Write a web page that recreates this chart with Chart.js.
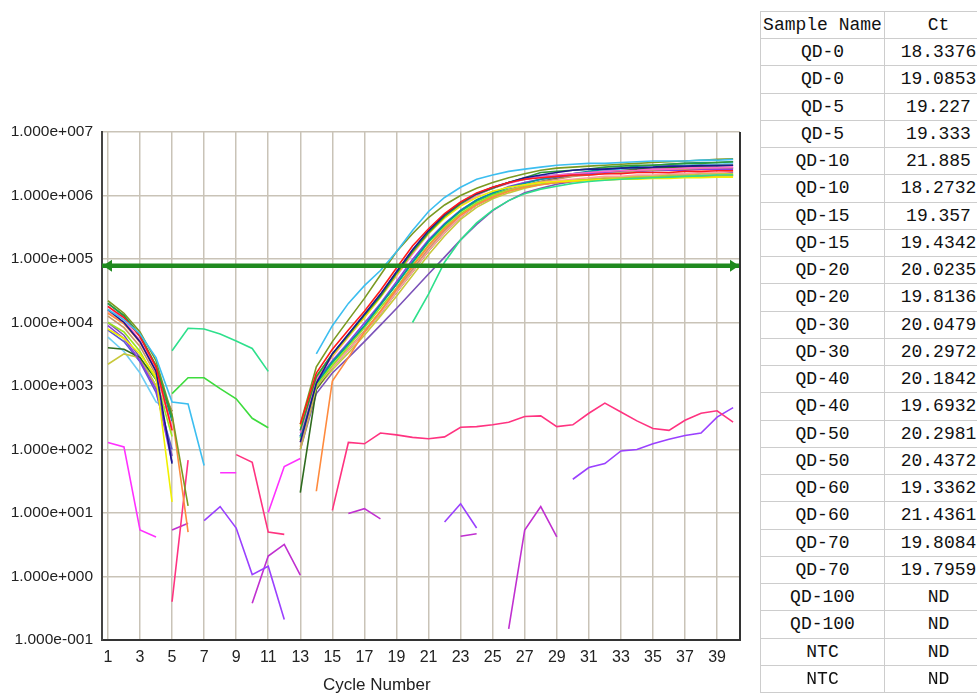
<!DOCTYPE html>
<html>
<head>
<meta charset="utf-8">
<script src="https://cdn.jsdelivr.net/npm/chart.js@4.4.0/dist/chart.umd.min.js"></script>
<style>
  html, body { margin: 0; padding: 0; background: #fff; width: 977px; height: 693px; overflow: hidden; position: relative; font-family: 'Liberation Sans', Arial, sans-serif; }
  #plot { position: absolute; left: 0; top: 0; }
  #xtitle { position: absolute; left: 323px; top: 675px; font-size: 17px; line-height: 20px; color: #222; }
  #ct { position: absolute; left: 760px; top: 11px; width: 232px; border-collapse: collapse; table-layout: fixed; font-family: 'Liberation Mono', monospace; font-size: 18px; color: #111; }
  #ct td { border: 1px solid #cdcdcd; text-align: center; padding: 0; white-space: nowrap; overflow: hidden; }
  #ct tr { height: 27.25px; }
  #ct tr.head { height: 27px; }
</style>
</head>
<body>
<canvas id="plot" width="750" height="693"></canvas>
<div id="xtitle">Cycle Number</div>
<table id="ct"><colgroup><col style="width:124px"><col style="width:108px"></colgroup><tbody></tbody></table>
<script>
const _ = null;

// x: cycle number, y: delta Rn (log axis)
const cycles = [1,2,3,4,5,6,7,8,9,10,11,12,13,14,15,16,17,18,19,20,21,22,23,24,25,26,27,28,29,30,31,32,33,34,35,36,37,38,39,40];
const xTicks = [1,3,5,7,9,11,13,15,17,19,21,23,25,27,29,31,33,35,37,39];
const yTicks = [0.1,1,10,100,1e3,1e4,1e5,1e6,1e7];
const threshold = 7.8e4;

// table on the right
const sampleNames = ['QD-0','QD-0','QD-5','QD-5','QD-10','QD-10','QD-15','QD-15','QD-20','QD-20','QD-30','QD-30','QD-40','QD-40','QD-50','QD-50','QD-60','QD-60','QD-70','QD-70','QD-100','QD-100','NTC','NTC'];
const ctValues = ['18.3376','19.0853','19.227','19.333','21.885','18.2732','19.357','19.4342','20.0235','19.8136','20.0479','20.2972','20.1842','19.6932','20.2981','20.4372','19.3362','21.4361','19.8084','19.7959','ND','ND','ND','ND'];

// amplification curves, one value per cycle (null = below zero, not drawn)
const qd0a = [1.6e4,1.1e4,6.6e3,2.8e3,5.6e2,5.2e2,56,_,_,_,_,_,_,3.2e3,8.9e3,2.0e4,3.8e4,6.6e4,1.3e5,2.8e5,5.6e5,9.3e5,1.35e6,1.8e6,2.1e6,2.4e6,2.6e6,2.8e6,3.0e6,3.1e6,3.2e6,3.2e6,3.3e6,3.4e6,3.5e6,3.5e6,3.5e6,3.6e6,3.6e6,3.7e6];
const qd0b = [1.8e4,1.2e4,6.0e3,2.0e3,2.0e2,_,_,_,_,_,_,_,2.5e2,1.6e3,3.8e3,7.6e3,1.5e4,3.2e4,7.2e4,1.6e5,3.0e5,5.2e5,7.9e5,1.1e6,1.35e6,1.6e6,1.8e6,1.9e6,2.0e6,2.1e6,2.1e6,2.2e6,2.2e6,2.3e6,2.3e6,2.3e6,2.4e6,2.4e6,2.45e6,2.45e6];
const qd5a = [1.6e4,1.0e4,5.0e3,1.7e3,60,_,_,_,_,_,_,_,1.3e2,1.1e3,3.2e3,6.6e3,1.35e4,2.8e4,6.3e4,1.4e5,2.8e5,5.0e5,7.8e5,1.07e6,1.35e6,1.6e6,1.9e6,2.1e6,2.3e6,2.5e6,2.6e6,2.6e6,2.7e6,2.75e6,2.8e6,2.9e6,2.9e6,2.95e6,2.95e6,3.0e6];
const qd5b = [2.0e4,1.3e4,6.3e3,2.1e3,3.2e2,_,_,_,_,_,_,_,2.0e2,1.4e3,3.2e3,6.3e3,1.3e4,2.6e4,5.9e4,1.3e5,2.6e5,4.7e5,7.4e5,1.05e6,1.3e6,1.6e6,1.9e6,2.3e6,2.4e6,2.5e6,2.6e6,2.8e6,2.9e6,3.0e6,3.0e6,3.1e6,3.2e6,3.2e6,3.3e6,3.4e6];
const qd10a = [_,_,_,_,3.6e3,8.1e3,7.9e3,6.6e3,5.1e3,3.9e3,1.7e3,_,_,_,_,_,_,_,_,1.0e4,2.8e4,8.9e4,2.0e5,3.7e5,5.9e5,8.3e5,1.07e6,1.26e6,1.4e6,1.55e6,1.66e6,1.74e6,1.8e6,1.86e6,1.9e6,1.95e6,2.0e6,2.04e6,2.1e6,2.1e6];
const qd10b = [2.2e4,1.4e4,7.1e3,2.5e3,3.5e2,13,_,_,_,_,_,_,2.5e2,2.0e3,5.0e3,1.1e4,2.4e4,5.6e4,1.3e5,2.5e5,4.5e5,7.1e5,1.0e6,1.3e6,1.6e6,1.9e6,2.2e6,2.5e6,2.7e6,2.8e6,2.9e6,3.0e6,3.1e6,3.2e6,3.3e6,3.4e6,3.5e6,3.6e6,3.7e6,3.8e6];
const qd15a = [7.9e3,5.6e3,3.2e3,1.4e3,15,_,_,_,_,_,_,_,2.3e2,1.4e3,3.0e3,6.0e3,1.2e4,2.5e4,5.6e4,1.26e5,2.5e5,4.4e5,6.8e5,9.3e5,1.17e6,1.35e6,1.48e6,1.6e6,1.66e6,1.7e6,1.74e6,1.78e6,1.8e6,1.8e6,1.86e6,1.86e6,1.9e6,1.9e6,1.95e6,1.95e6];
const qd15b = [1.8e4,1.1e4,5.2e3,1.8e3,2.2e2,_,_,_,_,_,_,_,1.8e2,1.26e3,2.9e3,5.9e3,1.2e4,2.5e4,5.4e4,1.2e5,2.5e5,4.5e5,7.1e5,1.0e6,1.3e6,1.55e6,1.8e6,1.95e6,2.1e6,2.2e6,2.3e6,2.4e6,2.45e6,2.5e6,2.6e6,2.6e6,2.7e6,2.75e6,2.75e6,2.8e6];
const qd20a = [1.4e4,9.5e3,5.0e3,1.9e3,3.5e2,5.0,_,_,_,_,_,_,_,22,1.2e3,2.8e3,7.1e3,1.5e4,3.4e4,7.6e4,1.6e5,3.0e5,4.9e5,7.2e5,9.5e5,1.17e6,1.35e6,1.48e6,1.6e6,1.66e6,1.74e6,1.78e6,1.8e6,1.86e6,1.9e6,1.95e6,2.0e6,2.0e6,2.04e6,2.04e6];
const qd20b = [2.0e4,1.26e4,6.0e3,2.0e3,2.8e2,_,_,_,_,_,_,_,1.6e2,1.1e3,2.4e3,4.6e3,8.9e3,1.9e4,4.0e4,8.9e4,1.9e5,3.5e5,5.8e5,8.5e5,1.1e6,1.35e6,1.55e6,1.8e6,2.0e6,2.2e6,2.4e6,2.6e6,2.7e6,2.9e6,3.0e6,3.1e6,3.2e6,3.3e6,3.3e6,3.4e6];
const qd30a = [1.0e4,7.1e3,3.5e3,1.26e3,1.6e2,_,_,_,_,_,_,_,1.4e2,1.0e3,2.1e3,4.2e3,8.3e3,1.7e4,3.5e4,7.9e4,1.66e5,3.2e5,5.2e5,7.6e5,1.0e6,1.2e6,1.38e6,1.5e6,1.6e6,1.7e6,1.78e6,1.8e6,1.86e6,1.9e6,1.95e6,2.0e6,2.0e6,2.04e6,2.04e6,2.1e6];
const qd30b = [1.5e4,1.0e4,4.8e3,1.7e3,2.0e2,_,_,_,_,_,_,_,1.3e2,1.0e3,2.0e3,3.7e3,7.1e3,1.4e4,3.0e4,6.3e4,1.35e5,2.6e5,4.6e5,7.1e5,9.5e5,1.2e6,1.4e6,1.6e6,1.7e6,1.8e6,1.9e6,2.0e6,2.0e6,2.1e6,2.1e6,2.2e6,2.2e6,2.3e6,2.3e6,2.4e6];
const qd40a = [1.26e4,8.3e3,4.2e3,1.5e3,4.0e2,_,_,_,_,_,_,_,1.1e2,9.5e2,2.0e3,3.8e3,7.4e3,1.5e4,3.2e4,6.9e4,1.45e5,2.8e5,4.8e5,7.2e5,9.8e5,1.23e6,1.45e6,1.66e6,1.8e6,2.0e6,2.1e6,2.2e6,2.3e6,2.45e6,2.5e6,2.6e6,2.6e6,2.7e6,2.75e6,2.75e6];
const qd40b = [8.9e3,5.6e3,2.5e3,8.9e2,63,_,_,_,_,_,_,_,1.6e2,1.2e3,2.5e3,4.9e3,9.8e3,2.0e4,4.4e4,9.8e4,2.0e5,3.6e5,5.9e5,8.5e5,1.1e6,1.38e6,1.6e6,1.8e6,1.95e6,2.1e6,2.2e6,2.3e6,2.3e6,2.4e6,2.45e6,2.5e6,2.5e6,2.6e6,2.6e6,2.6e6];
const qd50a = [4.0e3,3.8e3,2.8e3,1.26e3,4.0e2,_,_,_,_,_,_,_,21,8.9e2,2.0e3,3.7e3,7.1e3,1.4e4,3.0e4,6.3e4,1.35e5,2.6e5,4.6e5,7.1e5,9.5e5,1.2e6,1.45e6,1.66e6,1.86e6,2.04e6,2.2e6,2.3e6,2.45e6,2.6e6,2.7e6,2.75e6,2.8e6,2.9e6,2.95e6,3.0e6];
const qd50b = [2.2e3,3.2e3,2.8e3,1.0e3,3.2e2,_,_,_,_,_,_,_,1.0e2,8.9e2,1.8e3,3.3e3,6.3e3,1.26e4,2.6e4,5.5e4,1.17e5,2.3e5,4.2e5,6.5e5,8.9e5,1.1e6,1.3e6,1.48e6,1.6e6,1.74e6,1.8e6,1.9e6,1.95e6,2.0e6,2.04e6,2.1e6,2.1e6,2.2e6,2.2e6,2.2e6];
const qd60a = [7.6e3,5.0e3,2.4e3,7.9e2,1.0e2,_,_,_,_,_,_,_,2.0e2,1.4e3,3.2e3,6.3e3,1.3e4,2.6e4,5.9e4,1.3e5,2.6e5,4.7e5,7.4e5,1.05e6,1.3e6,1.6e6,1.8e6,2.0e6,2.1e6,2.2e6,2.3e6,2.4e6,2.4e6,2.5e6,2.5e6,2.6e6,2.6e6,2.6e6,2.7e6,2.7e6];
const qd60b = [1.0e4,6.3e3,2.8e3,1.0e3,79,_,_,_,_,_,_,_,1.0e2,7.6e2,1.6e3,2.8e3,5.0e3,9.1e3,1.66e4,3.1e4,5.8e4,1.07e5,2.0e5,3.5e5,5.8e5,8.3e5,1.1e6,1.3e6,1.5e6,1.66e6,1.78e6,1.86e6,1.95e6,2.0e6,2.04e6,2.1e6,2.1e6,2.2e6,2.2e6,2.3e6];
const qd70a = [_,_,_,_,7.6e2,1.35e3,1.35e3,9.1e2,6.3e2,3.1e2,2.2e2,_,1.5e2,1.05e3,2.3e3,4.5e3,8.7e3,1.9e4,4.0e4,8.7e4,1.85e5,3.4e5,5.6e5,8.1e5,1.05e6,1.25e6,1.4e6,1.5e6,1.6e6,1.7e6,1.75e6,1.8e6,1.85e6,1.9e6,1.9e6,1.95e6,2.0e6,2.0e6,2.05e6,2.1e6];
const qd70b = [5.9e3,3.5e3,1.6e3,5.6e2,4.0e2,_,_,_,_,_,_,_,1.6e2,1.1e3,2.4e3,4.6e3,8.9e3,1.9e4,4.0e4,8.9e4,1.9e5,3.5e5,5.8e5,8.5e5,1.1e6,1.35e6,1.6e6,1.8e6,2.0e6,2.2e6,2.3e6,2.5e6,2.6e6,2.7e6,2.8e6,2.9e6,3.0e6,3.1e6,3.1e6,3.2e6];
// no amplification (ND)
const qd100a = [_,_,_,_,0.4,68,_,_,83,63,5.0,4.6,_,_,11,129,123,182,170,155,148,158,224,229,245,269,331,339,229,245,372,537,389,282,214,200,288,372,407,269];
const qd100b = [_,_,_,_,_,_,7.6,12.6,5.8,1.07,1.45,0.21,_,_,_,_,_,_,_,_,_,7.2,14,5.8,_,_,_,_,_,34,52,60,95,100,123,145,166,182,324,457];
const ntcA = [129,110,5.4,4.2,_,_,_,43,43,_,10.2,54,72,_,_,_,_,_,_,_,_,_,_,_,_,_,_,_,_,_,_,_,_,_,_,_,_,_,_,_];
const ntcB = [_,_,_,_,5.4,6.9,_,_,_,0.38,2.1,3.2,1.05,_,_,9.8,11.7,8.1,_,_,_,_,4.3,4.7,_,0.15,5.4,12.6,4.2,_,_,_,_,_,_,_,_,_,_,_];

const curves = [qd0a,qd0b,qd5a,qd5b,qd10a,qd10b,qd15a,qd15b,qd20a,qd20b,qd30a,qd30b,qd40a,qd40b,qd50a,qd50b,qd60a,qd60b,qd70a,qd70b,qd100a,qd100b,ntcA,ntcB];
const curveColors = ['#3cbef0','#ff1a1a','#1a1a8c','#2f9a3a','#2ee08c','#7a9a20','#f0f000','#ff66cc','#ff8a3d','#009a9a','#9be61e','#ff9f9f','#c8966a','#8a3be2','#2e6b1e','#c8c83a','#5a5acd','#7b52b9','#3ddc3d','#6fcdf5','#ff3380','#9a40ff','#ff30ff','#c030d0'];

// table
const tbody = document.querySelector('#ct tbody');
tbody.innerHTML = '<tr class="head"><td>Sample Name</td><td>Ct</td></tr>' +
  sampleNames.map((n, i) => '<tr><td>' + n + '</td><td>' + ctValues[i] + '</td></tr>').join('');

function fmtExp(v) {
  const e = Math.round(Math.log10(v));
  return '1.000e' + (e < 0 ? '-' : '+') + String(Math.abs(e)).padStart(3, '0');
}

const xMin = 0.63, xMax = 40.43;
const thrColor = '#1f8a1f';

const datasets = [{
  label: 'Threshold',
  data: [{ x: xMin, y: threshold }, { x: xMax, y: threshold }],
  borderColor: thrColor,
  borderWidth: 4.5,
  pointRadius: 0,
  order: 0
}];
curves.forEach((vals, i) => {
  datasets.push({
    label: sampleNames[i],
    data: vals.map((v, j) => ({ x: cycles[j], y: v })),
    borderColor: curveColors[i],
    borderWidth: 1.6,
    pointRadius: 0,
    spanGaps: false,
    order: 1
  });
});

// right frame line + threshold arrow heads
const frame = {
  id: 'frame',
  afterDatasetsDraw(chart) {
    const { ctx, chartArea: a, scales } = chart;
    ctx.save();
    ctx.strokeStyle = '#333';
    ctx.lineWidth = 2;
    ctx.beginPath();
    ctx.moveTo(a.right, a.top);
    ctx.lineTo(a.right, a.bottom + 1);
    ctx.stroke();
    const y = scales.y.getPixelForValue(threshold);
    ctx.fillStyle = thrColor;
    ctx.beginPath();
    ctx.moveTo(a.left + 1, y);
    ctx.lineTo(a.left + 10, y - 6);
    ctx.lineTo(a.left + 10, y + 6);
    ctx.closePath();
    ctx.fill();
    ctx.beginPath();
    ctx.moveTo(a.right - 1, y);
    ctx.lineTo(a.right - 10, y - 6);
    ctx.lineTo(a.right - 10, y + 6);
    ctx.closePath();
    ctx.fill();
    ctx.restore();
  }
};

const gridStyle = { color: '#c9c3b7', lineWidth: 1.5, drawTicks: false };

new Chart(document.getElementById('plot').getContext('2d'), {
  type: 'line',
  data: { datasets },
  options: {
    responsive: false,
    animation: false,
    devicePixelRatio: 1,
    layout: { padding: { left: 0, top: 132, right: 10, bottom: 0 } },
    plugins: { legend: { display: false }, tooltip: { enabled: false } },
    elements: { line: { tension: 0 } },
    scales: {
      x: {
        type: 'linear',
        min: xMin,
        max: xMax,
        afterBuildTicks: s => { s.ticks = xTicks.map(v => ({ value: v })); },
        afterFit: s => { s.height = 53; },
        grid: gridStyle,
        border: { color: '#333', width: 2 },
        ticks: { padding: 8, autoSkip: false, maxRotation: 0, color: '#222', font: { family: 'Liberation Sans', size: 16 }, callback: v => String(v) }
      },
      y: {
        type: 'logarithmic',
        min: 0.1,
        max: 1e7,
        afterBuildTicks: s => { s.ticks = yTicks.map(v => ({ value: v })); },
        afterFit: s => { s.width = 102; },
        grid: gridStyle,
        border: { color: '#444', width: 2 },
        ticks: { padding: 9, autoSkip: false, color: '#222', font: { family: 'Liberation Sans', size: 15.5 }, callback: v => fmtExp(v) }
      }
    }
  },
  plugins: [frame]
});
</script>
</body>
</html>
